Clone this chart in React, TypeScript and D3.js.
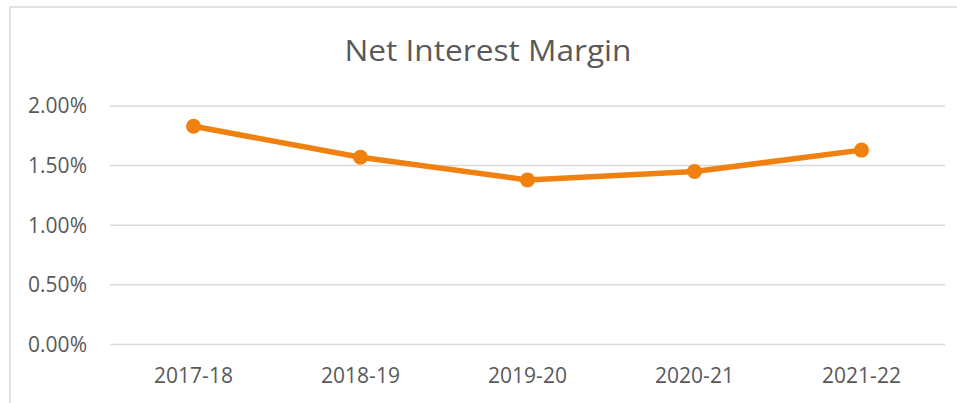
import React from 'react';
import * as d3 from 'd3';

const years = ['2017-18', '2018-19', '2019-20', '2020-21', '2021-22'];
const margins = [1.83, 1.57, 1.38, 1.45, 1.63];
const yTicks = [0, 0.5, 1, 1.5, 2];

const W = 957;
const H = 403;
const font = '"Open Sans", sans-serif';
const textColor = '#595959';
const gridColor = '#D9D9D9';
const lineColor = '#F0800F';

export default function App() {
  const x = d3.scaleBand<string>().domain(years).range([110, 945]);
  const y = d3.scaleLinear().domain([0, 2]).range([344.4, 106]);

  const line = d3
    .line<number>()
    .x((_, i) => (x(years[i]) as number) + x.bandwidth() / 2)
    .y((d) => y(d));

  return (
    <svg width={W} height={H} style={{ position: 'absolute', left: 0, top: 0, background: '#fff' }}>
      {/* chart border, runs off the right and bottom of the picture */}
      <rect x={10} y={7} width={W + 20} height={H + 20} fill="#fff" stroke={gridColor} strokeWidth={1.5} />

      <text
        x={488}
        y={61}
        textAnchor="middle"
        fontFamily={font}
        fontSize={30}
        fill={textColor}
        textLength={287}
        lengthAdjust="spacingAndGlyphs"
      >
        Net Interest Margin
      </text>

      {yTicks.map((t) => (
        <g key={t}>
          <line x1={110} x2={945} y1={y(t)} y2={y(t)} stroke={gridColor} strokeWidth={1.5} />
          <text
            x={87}
            y={y(t)}
            dy="0.35em"
            textAnchor="end"
            fontFamily={font}
            fontSize={21}
            fill={textColor}
          >
            {t.toFixed(2)}%
          </text>
        </g>
      ))}

      {years.map((yr) => (
        <text
          key={yr}
          x={(x(yr) as number) + x.bandwidth() / 2}
          y={383}
          textAnchor="middle"
          fontFamily={font}
          fontSize={21}
          fill={textColor}
        >
          {yr}
        </text>
      ))}

      <path d={line(margins) || ''} fill="none" stroke={lineColor} strokeWidth={5.5} strokeLinejoin="round" strokeLinecap="round" />
      {margins.map((m, i) => (
        <circle key={years[i]} cx={(x(years[i]) as number) + x.bandwidth() / 2} cy={y(m)} r={7.5} fill={lineColor} />
      ))}
    </svg>
  );
}
